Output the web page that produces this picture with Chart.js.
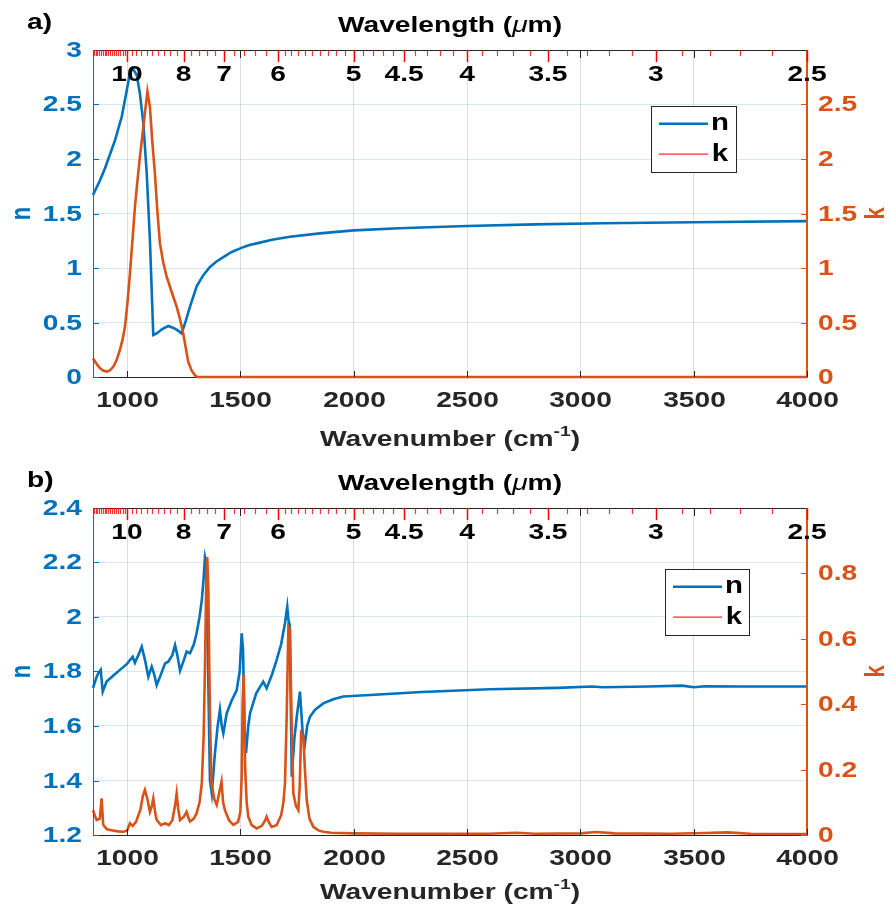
<!DOCTYPE html>
<html>
<head>
<meta charset="utf-8">
<script src="https://cdn.jsdelivr.net/npm/chart.js@4.4.0/dist/chart.umd.min.js"></script>
<style>
  body { margin: 0; background: #fff; }
  .wrap { position: relative; width: 892px; height: 920px; }
  canvas { position: absolute; left: 0; }
</style>
</head>
<body>
<div class="wrap">
  <canvas id="chartA" width="892" height="458" style="top:0"></canvas>
  <canvas id="chartB" width="892" height="462" style="top:458px"></canvas>
</div>
<script>
// ---- datos ----
// panel a) indice n
const wnA_n = [850, 880, 903, 947, 977, 999, 1013, 1025, 1043, 1057, 1072, 1087, 1101, 1116, 1131, 1155, 1182, 1205, 1222, 1241, 1260, 1278, 1307, 1335, 1366, 1395, 1425, 1460, 1499, 1540, 1572, 1640, 1719, 1851, 2000, 2200, 2500, 2800, 3100, 3500, 4000];
const nA = [1.67, 1.80, 1.915, 2.17, 2.39, 2.63, 2.79, 2.83, 2.77, 2.60, 2.33, 1.87, 1.26, 0.385, 0.40, 0.44, 0.468, 0.45, 0.43, 0.40, 0.52, 0.645, 0.83, 0.93, 1.01, 1.06, 1.10, 1.145, 1.18, 1.21, 1.226, 1.26, 1.287, 1.318, 1.345, 1.365, 1.385, 1.40, 1.41, 1.42, 1.43];
// panel a) extincion k
const wnA_k = [850, 866, 881, 895, 910, 925, 940, 955, 969, 980, 991, 1002, 1013, 1024, 1035, 1046, 1057, 1068, 1079, 1090, 1101, 1112, 1123, 1134, 1145, 1160, 1175, 1197, 1219, 1234, 1248, 1260, 1270, 1285, 1300, 1310, 1400, 2000, 3000, 4000];
const kA = [0.17, 0.12, 0.08, 0.06, 0.05, 0.06, 0.095, 0.16, 0.25, 0.34, 0.46, 0.68, 0.95, 1.25, 1.56, 1.80, 2.02, 2.22, 2.42, 2.62, 2.48, 2.15, 1.87, 1.52, 1.23, 1.05, 0.92, 0.78, 0.645, 0.53, 0.40, 0.26, 0.14, 0.06, 0.015, 0, 0, 0, 0, 0];

// panel b) indice n
const wnB_n = [850, 866, 873, 884, 893, 910, 940, 969, 1000, 1013, 1025, 1035, 1050, 1065, 1080, 1094, 1109, 1120, 1131, 1150, 1168, 1182, 1200, 1212, 1222, 1234, 1250, 1263, 1278, 1295, 1307, 1320, 1330, 1338, 1344, 1350, 1358, 1366, 1374, 1388, 1400, 1410, 1418, 1425, 1440, 1460, 1484, 1497, 1506, 1512, 1518, 1525, 1535, 1543, 1570, 1601, 1616, 1640, 1660, 1680, 1697, 1707, 1712, 1718, 1727, 1738, 1749, 1763, 1769, 1775, 1785, 1795, 1807, 1830, 1866, 1910, 1954, 2072, 2300, 2600, 2900, 3050, 3100, 3300, 3450, 3500, 3550, 3700, 4000];
const nB = [1.74, 1.78, 1.793, 1.806, 1.726, 1.763, 1.785, 1.806, 1.828, 1.842, 1.854, 1.832, 1.86, 1.891, 1.84, 1.781, 1.818, 1.79, 1.75, 1.79, 1.83, 1.836, 1.86, 1.897, 1.86, 1.803, 1.84, 1.873, 1.867, 1.90, 1.94, 2.0, 2.062, 2.14, 2.221, 2.20, 1.80, 1.40, 1.353, 1.50, 1.60, 1.659, 1.60, 1.573, 1.647, 1.69, 1.732, 1.80, 1.94, 1.88, 1.60, 1.50, 1.60, 1.647, 1.72, 1.763, 1.738, 1.79, 1.842, 1.90, 1.977, 2.038, 1.99, 1.97, 1.414, 1.55, 1.634, 1.726, 1.65, 1.573, 1.536, 1.60, 1.634, 1.66, 1.683, 1.698, 1.708, 1.714, 1.725, 1.735, 1.74, 1.745, 1.742, 1.745, 1.748, 1.742, 1.746, 1.745, 1.745];
// panel b) extincion k
const wnB_k = [850, 858, 866, 880, 888, 895, 910, 925, 960, 984, 1000, 1013, 1025, 1040, 1060, 1070, 1079, 1090, 1101, 1110, 1116, 1124, 1131, 1150, 1168, 1185, 1200, 1212, 1219, 1226, 1234, 1250, 1263, 1272, 1278, 1295, 1307, 1320, 1330, 1338, 1344, 1349, 1354, 1359, 1363, 1368, 1373, 1385, 1396, 1407, 1417, 1424, 1432, 1450, 1469, 1490, 1500, 1506, 1510, 1515, 1521, 1528, 1535, 1550, 1572, 1595, 1610, 1616, 1625, 1638, 1660, 1680, 1690, 1697, 1704, 1712, 1719, 1726, 1734, 1745, 1756, 1762, 1768, 1778, 1785, 1793, 1805, 1822, 1845, 1866, 1900, 2000, 2200, 2600, 2720, 2800, 3000, 3070, 3150, 3400, 3550, 3650, 3750, 4000];
const kB = [0.076, 0.06, 0.046, 0.05, 0.112, 0.031, 0.018, 0.015, 0.011, 0.01, 0.013, 0.036, 0.028, 0.04, 0.08, 0.12, 0.138, 0.11, 0.071, 0.09, 0.112, 0.07, 0.046, 0.03, 0.036, 0.03, 0.045, 0.09, 0.127, 0.08, 0.046, 0.055, 0.071, 0.05, 0.041, 0.05, 0.066, 0.10, 0.158, 0.30, 0.515, 0.75, 0.85, 0.75, 0.515, 0.30, 0.158, 0.11, 0.092, 0.13, 0.163, 0.10, 0.076, 0.045, 0.031, 0.04, 0.07, 0.18, 0.40, 0.49, 0.209, 0.10, 0.056, 0.03, 0.02, 0.028, 0.045, 0.056, 0.04, 0.025, 0.03, 0.06, 0.10, 0.158, 0.35, 0.637, 0.627, 0.35, 0.127, 0.09, 0.076, 0.15, 0.311, 0.30, 0.20, 0.107, 0.05, 0.025, 0.014, 0.01, 0.007, 0.005, 0.004, 0.004, 0.007, 0.004, 0.005, 0.009, 0.005, 0.004, 0.006, 0.008, 0.004, 0.003];

// ticks
const xTicks = [1000, 1500, 2000, 2500, 3000, 3500, 4000];
const nTicksA = [0, 0.5, 1, 1.5, 2, 2.5, 3];
const kTicksA = [0, 0.5, 1, 1.5, 2, 2.5];
const nTicksB = [1.2, 1.4, 1.6, 1.8, 2, 2.2, 2.4];
const kTicksB = [0, 0.2, 0.4, 0.6, 0.8];
const wlLabels = [10, 8, 7, 6, 5, 4.5, 4, 3.5, 3, 2.5];
// marcas menores rojas de longitud de onda (um)
const wlMinor = [];
[[11.7, 10.1, 0.1], [9.8, 8.2, 0.2], [7.8, 7.2, 0.2], [6.8, 6.2, 0.2], [5.9, 5.1, 0.1],
 [4.9, 4.6, 0.1], [4.4, 4.1, 0.1], [3.9, 3.6, 0.1], [3.4, 3.1, 0.1], [2.9, 2.6, 0.1]].forEach(([a, b, s]) => {
  for (let v = a; v >= b - 1e-6; v -= s) wlMinor.push(Math.round(v * 10) / 10);
});

const BLUE = "#0072BD";
const ORANGE = "#D95319";
const DARK = "#262626";
const FONT = '"Liberation Sans", Arial, sans-serif';
const F22 = "bold 22px " + FONT;
const SX = 1.28; // el texto del original esta ensanchado

const toPts = (xs, ys) => xs.map((x, i) => ({ x: x, y: ys[i] }));

// texto ensanchado horizontalmente
const sText = (ctx, t, x, y, align, font, color, rot) => {
  ctx.save();
  ctx.translate(x, y);
  ctx.scale(SX, 1);
  if (rot) ctx.rotate(rot);
  ctx.font = font;
  ctx.fillStyle = color;
  ctx.textAlign = align;
  ctx.textBaseline = "middle";
  ctx.fillText(t, 0, 0);
  ctx.restore();
};

// texto en partes (mu cursiva, superindice)
const sParts = (ctx, parts, cx, cy, color) => {
  let total = 0;
  parts.forEach((p) => { ctx.font = p.font; total += ctx.measureText(p.t).width; });
  ctx.save();
  ctx.translate(cx - (total * SX) / 2, cy);
  ctx.scale(SX, 1);
  ctx.fillStyle = color;
  ctx.textAlign = "left";
  ctx.textBaseline = "middle";
  let x = 0;
  parts.forEach((p) => {
    ctx.font = p.font;
    ctx.fillText(p.t, x, p.dy || 0);
    x += ctx.measureText(p.t).width;
  });
  ctx.restore();
};

const decor = {
  id: "decor",
  afterDatasetsDraw(chart, args, opts) {
    const ctx = chart.ctx;
    const { left, right, top, bottom } = chart.chartArea;
    const sx = chart.scales.x, sy = chart.scales.y, sk = chart.scales.y1;
    ctx.save();

    // bordes
    ctx.lineWidth = 1;
    ctx.strokeStyle = DARK;
    ctx.beginPath(); ctx.moveTo(left, top + 0.5); ctx.lineTo(right, top + 0.5); ctx.stroke();
    ctx.strokeStyle = BLUE;
    ctx.beginPath(); ctx.moveTo(left + 0.5, top); ctx.lineTo(left + 0.5, bottom); ctx.stroke();
    ctx.strokeStyle = ORANGE;
    ctx.beginPath(); ctx.moveTo(right - 0.5, top); ctx.lineTo(right - 0.5, bottom); ctx.stroke();

    // marcas hacia dentro y etiquetas
    ctx.strokeStyle = BLUE;
    opts.nTicks.forEach((v) => {
      const p = Math.round(sy.getPixelForValue(v)) + 0.5;
      ctx.beginPath(); ctx.moveTo(left, p); ctx.lineTo(left + 6, p); ctx.stroke();
      sText(ctx, String(v), left - 11, p, "right", F22, BLUE);
    });
    ctx.strokeStyle = ORANGE;
    opts.kTicks.forEach((v) => {
      const p = Math.round(sk.getPixelForValue(v)) + 0.5;
      ctx.beginPath(); ctx.moveTo(right, p); ctx.lineTo(right - 6, p); ctx.stroke();
      sText(ctx, String(v), right + 11, p, "left", F22, ORANGE);
    });
    ctx.strokeStyle = DARK;
    xTicks.forEach((v) => {
      const p = Math.round(sx.getPixelForValue(v)) + 0.5;
      ctx.beginPath(); ctx.moveTo(p, bottom); ctx.lineTo(p, bottom - 6); ctx.stroke();
      ctx.beginPath(); ctx.moveTo(p, top); ctx.lineTo(p, top + 8); ctx.stroke();
      sText(ctx, String(v), p, bottom + 24, "center", F22, DARK);
    });

    // eje superior de longitud de onda
    ctx.strokeStyle = "rgba(255,0,0,0.8)";
    ctx.lineWidth = 1.2;
    wlMinor.forEach((w) => {
      const p = Math.round(sx.getPixelForValue(10000 / w)) + 0.5;
      if (p < left || p > right) return;
      ctx.beginPath(); ctx.moveTo(p, top); ctx.lineTo(p, top + 6); ctx.stroke();
    });
    ctx.strokeStyle = "#ff0000";
    ctx.lineWidth = 1.5;
    wlLabels.forEach((w) => {
      const p = Math.round(sx.getPixelForValue(10000 / w)) + 0.5;
      ctx.beginPath(); ctx.moveTo(p, top); ctx.lineTo(p, top + 12); ctx.stroke();
    });
    wlLabels.forEach((w) => {
      sText(ctx, String(w), sx.getPixelForValue(10000 / w), top + 25, "center", F22, "#000");
    });

    // titulos
    sParts(ctx, [
      { t: "Wavelength (", font: F22 },
      { t: "\u03bc", font: "italic 22px " + FONT },
      { t: "m)", font: F22 }
    ], (left + right) / 2, top - 24, "#000");
    sText(ctx, opts.tag, 27, 23, "left", F22, "#000");
    sParts(ctx, [
      { t: "Wavenumber (cm", font: F22 },
      { t: "-1", font: "bold 15px " + FONT, dy: -8 },
      { t: ")", font: F22 }
    ], (left + right) / 2, bottom + opts.xTitleGap, DARK);

    sText(ctx, "n", 22, (top + bottom) / 2, "center", F22, BLUE, -Math.PI / 2);
    sText(ctx, "k", 876, (top + bottom) / 2, "center", F22, ORANGE, -Math.PI / 2);

    // leyenda
    const L = opts.legend;
    ctx.fillStyle = "#fff";
    ctx.fillRect(L.x, L.y, L.w, L.h);
    ctx.strokeStyle = DARK;
    ctx.lineWidth = 1;
    ctx.strokeRect(L.x + 0.5, L.y + 0.5, L.w, L.h);
    const y1 = L.y + L.h * 0.27, y2 = L.y + L.h * 0.73;
    ctx.strokeStyle = BLUE; ctx.lineWidth = 2.5;
    ctx.beginPath(); ctx.moveTo(L.x + 8, y1); ctx.lineTo(L.x + 57, y1); ctx.stroke();
    ctx.strokeStyle = "#ff2a2a"; ctx.lineWidth = 1.2;
    ctx.beginPath(); ctx.moveTo(L.x + 8, y2); ctx.lineTo(L.x + 57, y2); ctx.stroke();
    sText(ctx, "n", L.x + 69, y1, "center", "bold 23px " + FONT, "#000");
    sText(ctx, "k", L.x + 69, y2, "center", "bold 23px " + FONT, "#000");

    ctx.restore();
  }
};

const makePanel = (id, p) => {
  const canvas = document.getElementById(id);
  const H = canvas.height;
  return new Chart(canvas, {
    type: "line",
    data: {
      datasets: [
        { label: "k", data: toPts(p.kx, p.ky), yAxisID: "y1", borderColor: ORANGE, borderWidth: 2.6, pointRadius: 0, tension: 0, clip: 4, order: 0 },
        { label: "n", data: toPts(p.nx, p.ny), yAxisID: "y", borderColor: BLUE, borderWidth: 2.6, pointRadius: 0, tension: 0, clip: 4, order: 1 }
      ]
    },
    options: {
      responsive: false,
      animation: false,
      layout: { padding: { top: 50, left: 0, right: 0, bottom: 0 } },
      plugins: {
        legend: { display: false },
        title: { display: false },
        tooltip: { enabled: false },
        decor: { tag: p.tag, nTicks: p.nTicks, kTicks: p.kTicks, legend: p.legend, xTitleGap: p.xTitleGap }
      },
      scales: {
        x: {
          type: "linear", min: 850, max: 4000,
          afterBuildTicks: (s) => { s.ticks = xTicks.map((v) => ({ value: v })); },
          afterFit: (s) => { s.height = H - 377; },
          ticks: { display: false },
          grid: { color: "rgba(0,0,0,0.13)", drawTicks: false },
          border: { color: DARK }
        },
        y: {
          position: "left", min: p.nMin, max: p.nMax,
          afterBuildTicks: (s) => { s.ticks = p.nTicks.map((v) => ({ value: v })); },
          afterFit: (s) => { s.width = 93; },
          ticks: { display: false },
          grid: { color: "rgba(0,114,189,0.16)", drawTicks: false },
          border: { color: BLUE }
        },
        y1: {
          position: "right", min: p.kMin, max: p.kMax,
          afterBuildTicks: (s) => { s.ticks = p.kTicks.map((v) => ({ value: v })); },
          afterFit: (s) => { s.width = 85; },
          ticks: { display: false },
          grid: { display: false, drawTicks: false },
          border: { color: ORANGE }
        }
      }
    },
    plugins: [decor]
  });
};

makePanel("chartA", {
  tag: "a)", nx: wnA_n, ny: nA, kx: wnA_k, ky: kA,
  nMin: 0, nMax: 3, nTicks: nTicksA, kMin: 0, kMax: 3, kTicks: kTicksA,
  legend: { x: 651, y: 106, w: 85, h: 66 }, xTitleGap: 63
});
makePanel("chartB", {
  tag: "b)", nx: wnB_n, ny: nB, kx: wnB_k, ky: kB,
  nMin: 1.2, nMax: 2.4, nTicks: nTicksB, kMin: 0, kMax: 1, kTicks: kTicksB,
  legend: { x: 665, y: 111, w: 84, h: 66 }, xTitleGap: 58
});
</script>
</body>
</html>
